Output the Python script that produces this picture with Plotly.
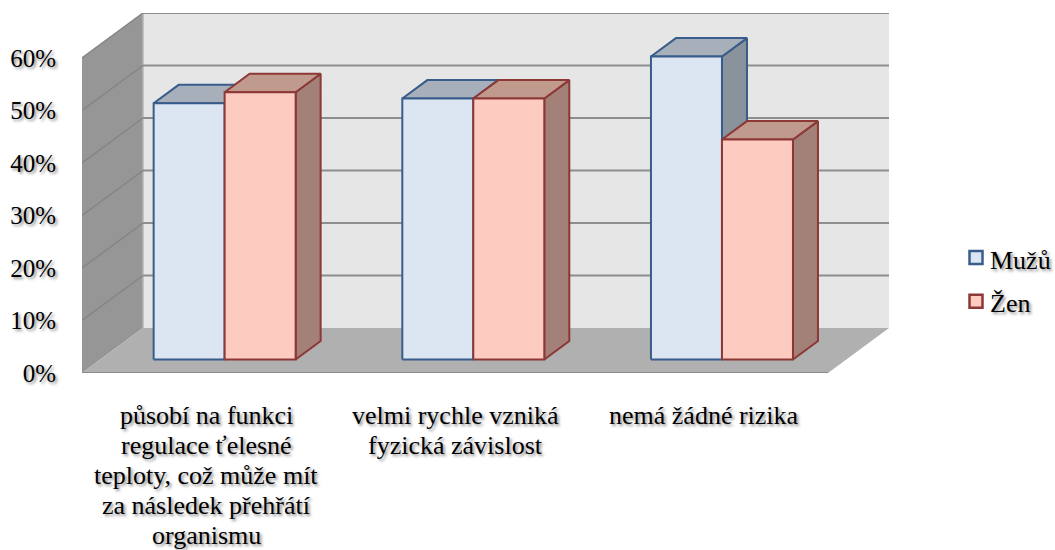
import plotly.graph_objects as go

# ---- data ----
categories = [
    "působí na funkci<br>regulace ťelesné<br>teploty, což může mít<br>za následek přehřátí<br>organismu",
    "velmi rychle vzniká<br>fyzická závislost",
    "nemá žádné rizika",
]
series_names = ["Mužů", "Žen"]
muzu = [48.8, 49.7, 57.7]
zen = [50.9, 49.7, 41.9]
y_ticks = [0, 10, 20, 30, 40, 50, 60]
y_labels = ["0%", "10%", "20%", "30%", "40%", "50%", "60%"]

# ---- oblique projection settings (axis units) ----
DX, DY = 0.2453, 8.57      # full depth of the floor
YMAX = 60
BAR_W = 0.2855             # bar width in category units
BAR_X0 = 0.2145            # first bar offset inside a category
D0, D1 = 0.30, 0.71        # bar depth range (fraction of floor depth)
N = len(categories)


def P(x, y, d):
    return x + DX * d, y + DY * d


def poly(points, fill, line=None, width=0):
    xs, ys = zip(*[P(*p) for p in points])
    return go.Scatter(
        x=list(xs) + [xs[0]], y=list(ys) + [ys[0]], mode="lines", fill="toself",
        fillcolor=fill, line=dict(color=line or fill, width=width),
        showlegend=False, hoverinfo="skip", cliponaxis=False,
    )


def seg(points, color, width):
    xs, ys = zip(*[P(*p) for p in points])
    return go.Scatter(x=xs, y=ys, mode="lines", line=dict(color=color, width=width),
                      showlegend=False, hoverinfo="skip", cliponaxis=False)


fig = go.Figure()
# back wall, side wall, floor
fig.add_trace(poly([(0, 0, 1), (N, 0, 1), (N, YMAX, 1), (0, YMAX, 1)], "#E6E6E6"))
fig.add_trace(poly([(0, 0, 0), (0, 0, 1), (0, YMAX, 1), (0, YMAX, 0)], "#969696"))
fig.add_trace(poly([(0, 0, 0), (N, 0, 0), (N, 0, 1), (0, 0, 1)], "#B0B0B0"))
fig.add_trace(seg([(0, 0, 1), (0, YMAX, 1)], "#B4B4B4", 1.5))
# grid
for t in y_ticks[1:]:
    fig.add_trace(seg([(0, t, 0), (0, t, 1)], "#858585", 1.5))
    fig.add_trace(seg([(0, t, 1), (N, t, 1)], "#8E8E8E", 2))
fig.add_trace(seg([(0, 0, 0), (N, 0, 0)], "#8C8C8C", 2))

styles = [
    dict(face="#DCE6F2", top="#A7AFBA", side="#8A929C", line="#385D8A"),
    dict(face="#FECBC0", top="#C19A8E", side="#A38078", line="#8C3836"),
]
for s, values in enumerate([muzu, zen]):
    st = styles[s]
    for c, v in enumerate(values):
        x0 = c + BAR_X0 + s * BAR_W
        x1 = x0 + BAR_W
        fig.add_trace(poly([(x1, 0, D0), (x1, 0, D1), (x1, v, D1), (x1, v, D0)], st["side"], st["line"], 2))
        fig.add_trace(poly([(x0, v, D0), (x1, v, D0), (x1, v, D1), (x0, v, D1)], st["top"], st["line"], 2))
        fig.add_trace(poly([(x0, 0, D0), (x1, 0, D0), (x1, v, D0), (x0, v, D0)], st["face"], st["line"], 2))

# legend entries
for s, name in enumerate(series_names):
    fig.add_trace(go.Scatter(
        x=[None], y=[None], mode="markers", name=name, legendgroup=name,
        marker=dict(symbol="square", size=13, color=styles[s]["face"],
                    line=dict(color=styles[s]["line"], width=2.5)),
    ))

SHADOW = "2px 2px 3px rgba(0,0,0,0.45)"
FONT = dict(family="Liberation Serif", size=25, color="#000000", shadow=SHADOW)
CAT_FONT = dict(family="Liberation Serif", size=26, color="#000000", shadow=SHADOW)

# category labels: one real text per line so the line pitch follows the reference
annotations = []
for c, label in enumerate(categories):
    for i, line in enumerate(label.split("<br>")):
        annotations.append(dict(
            x=c + 0.5, xref="x", y=0, yref="paper", yanchor="middle", xanchor="center",
            yshift=-(42 + 30 * i), text=line, showarrow=False, font=CAT_FONT,
        ))

fig.update_layout(
    width=1055, height=550, margin=dict(l=82, r=166, t=13, b=177, pad=0),
    paper_bgcolor="white", plot_bgcolor="rgba(0,0,0,0)", font=FONT,
    annotations=annotations,
    xaxis=dict(range=[0, N + DX], showgrid=False, zeroline=False, showline=False,
               showticklabels=False, ticks="", automargin=False),
    yaxis=dict(range=[0, YMAX + DY], showgrid=False, zeroline=False, showline=False,
               tickmode="array", tickvals=y_ticks, ticktext=y_labels, automargin=False,
               ticks="outside", ticklen=20, tickcolor="rgba(0,0,0,0)", tickfont=FONT),
    legend=dict(xref="container", yref="container", x=950 / 1055, y=1 - 235 / 550,
                xanchor="left", yanchor="top", font=CAT_FONT, tracegroupgap=7,
                bgcolor="rgba(0,0,0,0)"),
)

post = """
document.body.style.margin = '0';
setTimeout(function () {
  document.querySelectorAll('.legendsymbols').forEach(function (g) {
    g.setAttribute('transform', 'translate(6,-1)');
  });
}, 50);
"""
fig.write_html("out.html", config={"displayModeBar": False}, post_script=post)
